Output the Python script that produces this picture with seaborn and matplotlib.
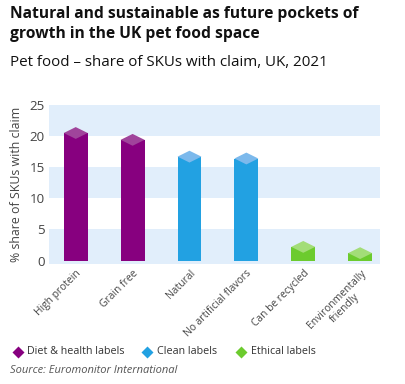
import matplotlib
matplotlib.use("Agg")
import matplotlib.pyplot as plt
from matplotlib.patches import Polygon
from matplotlib.lines import Line2D
import seaborn as sns
import pandas as pd

categories = ["High protein", "Grain free", "Natural", "No artificial flavors",
              "Can be recycled", "Environmentally\nfriendly"]
values = [20.5, 19.4, 16.7, 16.4, 2.2, 1.2]
groups = ["Diet & health labels", "Diet & health labels", "Clean labels",
          "Clean labels", "Ethical labels", "Ethical labels"]
group_names = ["Diet & health labels", "Clean labels", "Ethical labels"]
yticks = [0, 5, 10, 15, 20, 25]

bar_colors = {"Diet & health labels": "#87007F", "Clean labels": "#22A1E2",
              "Ethical labels": "#6CCB2E"}
cap_colors = {"Diet & health labels": "#A0449B", "Clean labels": "#7CB9EC",
              "Ethical labels": "#A3DD78"}
band_color = "#E1EEFB"

sns.set_theme(style="white")
plt.rcParams["font.family"] = ["Open Sans", "DejaVu Sans"]

df = pd.DataFrame({"category": categories, "value": values, "group": groups})

W, H = 406, 384
fig = plt.figure(figsize=(W / 100, H / 100), dpi=100)
renderer = fig.canvas.get_renderer()


def measure(text, size, **kw):
    t = fig.text(0, 0, text, fontsize=size, **kw)
    w = t.get_window_extent(renderer).width
    t.remove()
    return w


def fit_size(text, target, **kw):
    return 10 * target / measure(text, 10, **kw)


ax = fig.add_axes([0.1207, 0.3125, 0.8153, 0.4141])

sns.barplot(data=df, x="category", y="value", hue="group", hue_order=group_names,
            palette=bar_colors, dodge=False, width=0.42, saturation=1,
            legend=False, ax=ax, zorder=2)

d = 0.95
bars = [p for c in ax.containers for p in c]
for p in bars:
    h = p.get_height()
    if not h or h <= 0:
        continue
    x0 = p.get_x()
    w = p.get_width()
    idx = int(round(x0 + w / 2))
    grp = groups[idx]
    p.set_edgecolor("none")
    poly = Polygon([(x0, h), (x0 + w / 2, h + d), (x0 + w, h), (x0 + w / 2, h - d)],
                   closed=True, facecolor=cap_colors[grp], edgecolor="none", zorder=3)
    ax.add_patch(poly)

ymin = -0.55
for lo, hi in [(ymin, 5), (10, 15), (20, 25)]:
    ax.axhspan(lo, hi, color=band_color, zorder=0, lw=0)

ytick_size = 9.6
xtick_size = fit_size("No artificial flavors", 90)
ylabel_size = fit_size("% share of SKUs with claim", 155)

ax.set_ylim(ymin, 25)
ax.set_xlim(-0.47, 5.35)
ax.set_yticks(yticks)
ax.set_yticklabels([str(t) for t in yticks], fontsize=ytick_size, color="#444444")
ax.set_xlabel("")
ax.set_ylabel("% share of SKUs with claim", fontsize=ylabel_size, color="#444444", labelpad=5)
ax.tick_params(axis="both", length=0, pad=3)
ax.set_xticks(range(len(categories)))
ax.set_xticklabels(categories, rotation=45, ha="right", rotation_mode="anchor",
                   fontsize=xtick_size, color="#444444", multialignment="center")
for s in ax.spines.values():
    s.set_visible(False)
ax.grid(False)

title_size = fit_size("Natural and sustainable as future pockets of", 350, fontweight="bold")
fig.text(10 / W, 1 - 13.5 / H, "Natural and sustainable as future pockets of",
         fontsize=title_size, fontweight="bold", color="#111111", va="center", ha="left")
fig.text(10 / W, 1 - 33.5 / H, "growth in the UK pet food space",
         fontsize=title_size, fontweight="bold", color="#111111", va="center", ha="left")
sub = "Pet food \u2013 share of SKUs with claim, UK, 2021"
fig.text(10 / W, 1 - 63 / H, sub, fontsize=fit_size(sub, 318),
         color="#111111", va="center", ha="left")

leg_size = fit_size("Diet & health labels", 98)
for g, mx, tx in zip(group_names, [18, 147, 241], [27, 157, 251]):
    fig.add_artist(Line2D([mx / W], [1 - 352 / H], marker="D", linestyle="none",
                          markersize=6.5, markerfacecolor=bar_colors[g],
                          markeredgecolor="none", transform=fig.transFigure))
    fig.text(tx / W, 1 - 352 / H, g, fontsize=leg_size, color="#333333",
             va="center", ha="left")

src = "Source: Euromonitor International"
fig.text(10 / W, 1 - 370.5 / H, src, fontsize=fit_size(src, 168, style="italic"),
         style="italic", color="#555555", va="center", ha="left")

fig.savefig("out.png", dpi=100)
